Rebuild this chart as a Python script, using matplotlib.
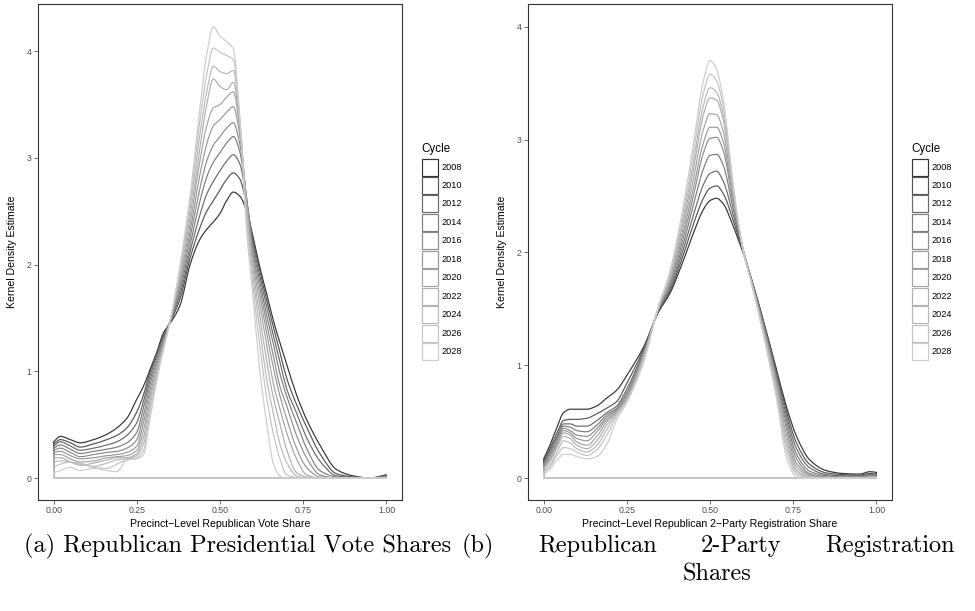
import numpy as np
import matplotlib
matplotlib.use("Agg")
import matplotlib.pyplot as plt
from matplotlib.path import Path
from matplotlib.patches import PathPatch, Rectangle

plt.rcParams['font.family'] = ['Liberation Sans', 'DejaVu Sans']

cycles = [2008, 2010, 2012, 2014, 2016, 2018, 2020, 2022, 2024, 2026, 2028]

# ---- Panel (a): precinct-level Republican vote share ----
vote_x = [0.00, 0.02, 0.05, 0.08, 0.12, 0.16, 0.19, 0.22, 0.25,
          0.27, 0.29, 0.31, 0.33, 0.35, 0.38,
          0.41, 0.44, 0.46, 0.48, 0.50, 0.52, 0.54, 0.56,
          0.58, 0.60, 0.62, 0.64, 0.66, 0.68, 0.70, 0.73, 0.76, 0.80, 0.85, 0.90, 0.95, 1.00]
vote_2008 = [0.34,0.39,0.36,0.33,0.36,0.41,0.47,0.56,0.74, 0.86,1.02,1.18,1.36,1.45,1.62, 2.00,2.24,2.33,2.40,2.48,2.60,2.68,2.64, 2.50,2.25,1.97,1.73,1.48,1.27,1.07,0.78,0.55,0.31,0.08,0.02,0.00,0.03]
vote_2010 = [0.32,0.36,0.33,0.29,0.32,0.36,0.40,0.47,0.62, 0.78,1.00,1.17,1.34,1.46,1.68, 2.06,2.35,2.50,2.60,2.70,2.80,2.86,2.80, 2.56,2.22,1.94,1.67,1.42,1.18,0.94,0.69,0.48,0.23,0.04,0.01,0.00,0.025]
vote_2012 = [0.30,0.34,0.30,0.26,0.28,0.31,0.34,0.40,0.52, 0.72,0.96,1.15,1.32,1.47,1.72, 2.12,2.47,2.66,2.78,2.88,2.97,3.03,2.94, 2.60,2.18,1.89,1.61,1.34,1.09,0.84,0.61,0.38,0.16,0.02,0.005,0.0,0.02]
vote_2014 = [0.28,0.31,0.27,0.23,0.25,0.27,0.29,0.33,0.43, 0.66,0.92,1.12,1.30,1.47,1.76, 2.18,2.60,2.82,2.96,3.05,3.14,3.20,3.05, 2.62,2.14,1.84,1.53,1.26,0.98,0.77,0.52,0.28,0.07,0.01,0.0,0.0,0.015]
vote_2016 = [0.26,0.28,0.24,0.20,0.22,0.24,0.25,0.28,0.36, 0.59,0.88,1.09,1.28,1.47,1.80, 2.25,2.72,2.97,3.12,3.20,3.28,3.33,3.12, 2.62,2.10,1.78,1.45,1.15,0.86,0.68,0.40,0.19,0.03,0.0,0.0,0.0,0.01]
vote_2018 = [0.24,0.25,0.21,0.18,0.19,0.21,0.22,0.24,0.30, 0.52,0.83,1.06,1.27,1.47,1.83, 2.31,2.85,3.13,3.30,3.36,3.43,3.48,3.20, 2.60,2.06,1.71,1.36,1.04,0.77,0.56,0.28,0.10,0.01,0.0,0.0,0.0,0.005]
vote_2020 = [0.22,0.22,0.18,0.15,0.16,0.19,0.20,0.21,0.26, 0.45,0.78,1.03,1.25,1.47,1.86, 2.38,2.98,3.30,3.47,3.50,3.57,3.62,3.26, 2.57,2.01,1.62,1.25,0.89,0.65,0.43,0.18,0.03,0.0,0.0,0.0,0.0,0.005]
vote_2022 = [0.19,0.19,0.15,0.12,0.14,0.17,0.19,0.19,0.23, 0.38,0.73,1.00,1.24,1.47,1.90, 2.45,3.10,3.50,3.74,3.67,3.64,3.71,3.30, 2.53,1.95,1.51,1.10,0.76,0.51,0.27,0.05,0.01,0.0,0.0,0.0,0.0,0.005]
vote_2024 = [0.15,0.16,0.15,0.13,0.11,0.14,0.17,0.18,0.21, 0.32,0.68,0.97,1.22,1.47,1.93, 2.52,3.23,3.62,3.86,3.81,3.79,3.82,3.33, 2.47,1.87,1.39,0.93,0.61,0.32,0.15,0.02,0.0,0.0,0.0,0.0,0.0,0.005]
vote_2026 = [0.10,0.13,0.15,0.14,0.10,0.09,0.13,0.17,0.19, 0.26,0.62,0.94,1.21,1.47,1.97, 2.58,3.36,3.78,4.03,3.99,3.96,3.92,3.35, 2.40,1.78,1.23,0.76,0.42,0.18,0.03,0.005,0.0,0.0,0.0,0.0,0.0,0.005]
vote_2028 = [0.05,0.07,0.10,0.07,0.09,0.07,0.06,0.17,0.18, 0.22,0.56,0.91,1.20,1.47,2.00, 2.65,3.48,3.97,4.23,4.14,4.09,4.02,3.35, 2.32,1.67,1.00,0.52,0.14,0.02,0.0,0.0,0.0,0.0,0.0,0.0,0.0,0.0]

# ---- Panel (b): precinct-level Republican 2-party registration share ----
reg_x = [0.00, 0.02, 0.04, 0.06, 0.08, 0.10, 0.13, 0.16, 0.19, 0.22, 0.25,
         0.30, 0.345,
         0.38, 0.42, 0.45, 0.48, 0.50, 0.52, 0.54, 0.57,
         0.60, 0.625, 0.66, 0.70, 0.73, 0.76, 0.80, 0.85, 0.90, 0.95, 0.98, 1.00]
reg_2008 = [0.17,0.30,0.45,0.58,0.61,0.61,0.61,0.64,0.71,0.78,0.91, 1.16,1.47, 1.64,1.93,2.17,2.38,2.46,2.48,2.43,2.23, 1.99,1.76,1.40,0.96,0.63,0.37,0.16,0.065,0.04,0.035,0.056,0.05]
reg_2010 = [0.15,0.27,0.40,0.51,0.52,0.52,0.53,0.57,0.62,0.68,0.84, 1.14,1.48, 1.66,1.98,2.25,2.48,2.57,2.59,2.52,2.28, 2.00,1.76,1.39,0.94,0.59,0.31,0.12,0.045,0.03,0.025,0.04,0.035]
reg_2012 = [0.13,0.25,0.37,0.48,0.48,0.46,0.46,0.51,0.58,0.64,0.79, 1.12,1.49, 1.68,2.03,2.33,2.60,2.70,2.72,2.63,2.33, 2.01,1.75,1.38,0.92,0.55,0.26,0.09,0.03,0.02,0.02,0.03,0.025]
reg_2014 = [0.12,0.23,0.35,0.46,0.45,0.42,0.41,0.47,0.56,0.62,0.76, 1.11,1.49, 1.70,2.08,2.42,2.74,2.86,2.87,2.77,2.38, 2.02,1.75,1.37,0.90,0.51,0.21,0.06,0.02,0.01,0.01,0.02,0.02]
reg_2016 = [0.11,0.21,0.33,0.44,0.42,0.38,0.37,0.44,0.54,0.61,0.74, 1.10,1.50, 1.72,2.13,2.50,2.88,3.01,3.02,2.90,2.43, 2.02,1.75,1.36,0.87,0.47,0.17,0.04,0.01,0.005,0.005,0.015,0.015]
reg_2018 = [0.10,0.19,0.31,0.42,0.40,0.35,0.33,0.41,0.52,0.60,0.72, 1.09,1.50, 1.74,2.18,2.57,2.97,3.11,3.11,2.98,2.46, 2.02,1.74,1.34,0.85,0.43,0.13,0.03,0.005,0.0,0.0,0.01,0.01]
reg_2020 = [0.09,0.17,0.29,0.40,0.38,0.32,0.29,0.37,0.50,0.59,0.71, 1.08,1.50, 1.76,2.23,2.65,3.09,3.23,3.22,3.07,2.49, 2.02,1.74,1.33,0.82,0.38,0.10,0.02,0.0,0.0,0.0,0.005,0.005]
reg_2022 = [0.08,0.15,0.27,0.37,0.35,0.29,0.26,0.33,0.47,0.58,0.70, 1.07,1.51, 1.78,2.28,2.73,3.22,3.37,3.35,3.17,2.53, 2.02,1.73,1.32,0.79,0.34,0.07,0.01,0.0,0.0,0.0,0.005,0.005]
reg_2024 = [0.06,0.12,0.23,0.33,0.31,0.26,0.23,0.29,0.43,0.57,0.69, 1.06,1.51, 1.80,2.32,2.80,3.30,3.46,3.42,3.22,2.55, 2.01,1.73,1.30,0.76,0.29,0.05,0.005,0.0,0.0,0.0,0.005,0.005]
reg_2026 = [0.05,0.10,0.20,0.27,0.26,0.23,0.20,0.25,0.38,0.55,0.68, 1.04,1.52, 1.82,2.37,2.88,3.41,3.58,3.52,3.29,2.58, 2.01,1.72,1.29,0.73,0.24,0.03,0.0,0.0,0.0,0.0,0.005,0.005]
reg_2028 = [0.03,0.08,0.16,0.21,0.21,0.19,0.17,0.19,0.30,0.52,0.67, 1.02,1.52, 1.84,2.42,2.96,3.52,3.70,3.62,3.35,2.60, 2.00,1.72,1.27,0.70,0.18,0.01,0.0,0.0,0.0,0.0,0.005,0.005]

vote_curves = [vote_2008, vote_2010, vote_2012, vote_2014, vote_2016, vote_2018,
               vote_2020, vote_2022, vote_2024, vote_2026, vote_2028]
reg_curves = [reg_2008, reg_2010, reg_2012, reg_2014, reg_2016, reg_2018,
              reg_2020, reg_2022, reg_2024, reg_2026, reg_2028]

x_ticks = [0.00, 0.25, 0.50, 0.75, 1.00]
x_ticklabels = ["0.00", "0.25", "0.50", "0.75", "1.00"]
y_ticks = [0, 1, 2, 3, 4]

caption_a = "(a) Republican Presidential Vote Shares"
caption_b_line1 = ["(b)", "Republican", "2-Party", "Registration"]
caption_b_line2 = "Shares"

# grey scale like ggplot's scale_colour_grey(start=0.2, end=0.8)
g = np.linspace(0.2 ** 2.2, 0.8 ** 2.2, len(cycles)) ** (1 / 2.2)
colors = [(v, v, v) for v in g]


def density_outline(xs, ys):
    """Closed outline (curve + baseline) drawn as smooth monotone Bezier segments."""
    xs = np.asarray(xs, float)
    ys = np.asarray(ys, float)
    h = np.diff(xs)
    d = np.diff(ys) / h
    n = len(xs)
    m = np.zeros(n)
    m[0] = d[0]
    m[-1] = d[-1]
    for i in range(1, n - 1):
        if d[i - 1] * d[i] <= 0:
            m[i] = 0.0
        else:
            w1 = 2 * h[i] + h[i - 1]
            w2 = h[i] + 2 * h[i - 1]
            m[i] = (w1 + w2) / (w1 / d[i - 1] + w2 / d[i])
    verts = [(xs[0], 0.0), (xs[0], ys[0])]
    codes = [Path.MOVETO, Path.LINETO]
    for i in range(n - 1):
        verts += [(xs[i] + h[i] / 3, ys[i] + m[i] * h[i] / 3),
                  (xs[i + 1] - h[i] / 3, ys[i + 1] - m[i + 1] * h[i] / 3),
                  (xs[i + 1], ys[i + 1])]
        codes += [Path.CURVE4] * 3
    verts += [(xs[-1], 0.0), (xs[0], 0.0), (xs[0], 0.0)]
    codes += [Path.LINETO, Path.LINETO, Path.CLOSEPOLY]
    return Path(verts, codes)


W, H = 975, 611
fig = plt.figure(figsize=(W / 100, H / 100), dpi=100)


def fx(px):
    return px / W


def fy(py):
    return 1 - py / H


def make_panel(left_px, xs, curves, ylim, xlabel):
    ax = fig.add_axes([fx(left_px), fy(500), (402 - 37.7) / W, (500 - 4.3) / H])
    for c, ys in zip(colors, curves):
        ax.add_patch(PathPatch(density_outline(xs, ys), facecolor='none',
                               edgecolor=c, lw=0.85, joinstyle='round'))
    ax.set_xlim(-0.048, 1.047)
    ax.set_ylim(*ylim)
    ax.set_xticks(x_ticks)
    ax.set_xticklabels(x_ticklabels)
    ax.set_yticks(y_ticks)
    ax.tick_params(length=2.6, width=0.5, color='#333333', labelsize=6.3,
                   labelcolor='#4D4D4D', pad=2.0)
    for s in ax.spines.values():
        s.set_color('#333333')
        s.set_linewidth(0.8)
    ax.set_xlabel(xlabel, fontsize=7.6, labelpad=2.5)
    ax.set_ylabel("Kernel Density Estimate", fontsize=7.6, labelpad=7)
    return ax


axa = make_panel(37.7, vote_x, vote_curves, (-0.206, 4.44),
                 "Precinct\u2212Level Republican Vote Share")
axb = make_panel(527.7, reg_x, reg_curves, (-0.195, 4.20),
                 "Precinct\u2212Level Republican 2\u2212Party Registration Share")


def legend(left_px):
    fig.text(fx(left_px), fy(149), "Cycle", fontsize=8.4, va='center', ha='left')
    step = 18.45
    for i, (c, yr) in enumerate(zip(colors, cycles)):
        top = 158.5 + i * step
        fig.add_artist(Rectangle((fx(left_px + 0.5), fy(top + 17.0)), 16.5 / W, 17.0 / H,
                                 transform=fig.transFigure, facecolor='white',
                                 edgecolor=c, lw=0.85))
        fig.text(fx(left_px + 20.5), fy(top + 8.6), str(yr), fontsize=6.6,
                 va='center', ha='left')


legend(421)
legend(911)

# captions (LaTeX-like serif); line 1 of (b) is justified between 462 and 955 px
cap = dict(family='cmr10', fontsize=17.5, va='center')
fig.text(fx(237.5), fy(546), caption_a, ha='center', **cap)
renderer = fig.canvas.get_renderer()
words = [fig.text(0, fy(546), w, ha='left', **cap) for w in caption_b_line1]
widths = [t.get_window_extent(renderer).width for t in words]
x0_px, x1_px = 462.0, 955.0
gap = (x1_px - x0_px - sum(widths)) / (len(words) - 1)
pos = x0_px
for t, wd in zip(words, widths):
    t.set_x(fx(pos))
    pos += wd + gap
fig.text(fx(717), fy(574), caption_b_line2, ha='center', **cap)

fig.savefig("out.png", dpi=100)
